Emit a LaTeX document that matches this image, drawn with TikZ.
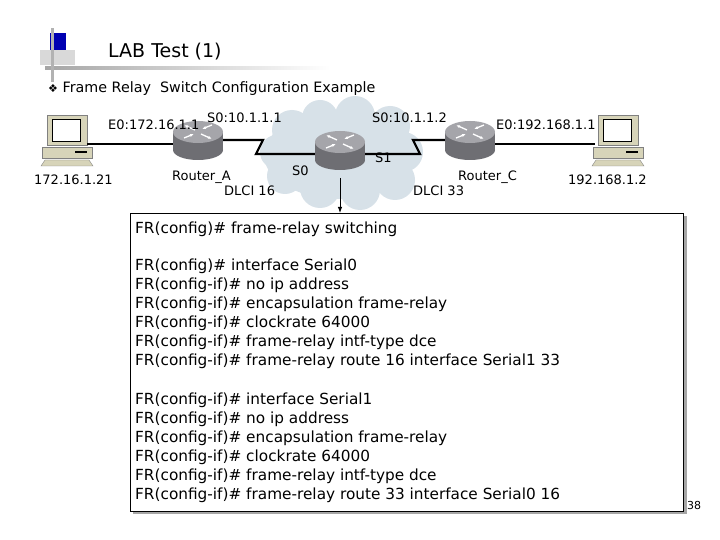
\documentclass[tikz,border=0pt]{standalone}
\usepackage{fontspec}
\setmainfont{DejaVu Sans}
\usetikzlibrary{shapes.geometric,arrows.meta,shadows}
\definecolor{rtr}{RGB}{110,110,115}
\definecolor{rtrtop}{RGB}{165,165,170}
\definecolor{cloudc}{RGB}{215,225,232}
\definecolor{pcc}{RGB}{215,212,185}
\tikzset{
 lbl/.style={font=\fontsize{13}{13}\selectfont, inner sep=0pt, anchor=west},
 cfg/.style={font=\fontsize{15.3}{15.3}\selectfont, inner sep=0pt, anchor=west},
 link/.style={line width=2.2pt},
}
\newcommand{\router}[2]{%
 \begin{scope}[shift={#1}]
  \fill[rtr] (-25,-8) rectangle (25,10);
  \fill[rtr] (0,10) ellipse (25 and 10);
  \fill[rtrtop] (0,-8) ellipse (25 and 11);
  \draw[white,line width=1.3pt,-{Latex[length=4pt]}] (-3,-10) -- (-14,-15);
  \draw[white,line width=1.3pt,-{Latex[length=4pt]}] (3,-6) -- (14,-1);
  \draw[white,line width=1.3pt,-{Latex[length=4pt]}] (-14,-2) -- (-4,-6);
  \draw[white,line width=1.3pt,-{Latex[length=4pt]}] (14,-15) -- (4,-11);
  \coordinate (#2) at (0,0);
 \end{scope}}
\newcommand{\pc}[2]{%
 \begin{scope}[shift={#1}]
  \fill[pcc,draw=gray] (-20,-25) rectangle (20,5);
  \fill[white,draw=black] (-15,-21) rectangle (13,1);
  \fill[pcc,draw=gray] (-25,7) rectangle (25,18);
  \draw[line width=1.5pt] (8,12) -- (20,12);
  \fill[pcc,draw=gray] (-22,20) -- (22,20) -- (26,26) -- (-26,26) -- cycle;
  \coordinate (#2) at (0,0);
 \end{scope}}
\begin{document}
\begin{tikzpicture}[x=1pt,y=-1pt]
\useasboundingbox (0,0) rectangle (720,540);
\fill[white] (0,0) rectangle (720,540);
% header decoration
\fill[gray!30] (40,50) rectangle (75,65);
\fill[blue!70!black] (50,33) rectangle (66,50);
\shade[left color=gray!70,right color=white] (45,67) rectangle (330,70);
\fill[gray!60] (51,28) rectangle (54,82);
\node[lbl,font=\fontsize{19}{19}\selectfont] (title) at (108,52) {LAB Test (1)};
\node[lbl,font=\fontsize{14.3}{14.3}\selectfont] (sub) at (48,89) {{\fontsize{11}{11}\selectfont ❖} Frame Relay\ \ Switch Configuration Example};
% cloud
\fill[cloudc] (340,155) ellipse (76 and 44);
\foreach \x/\y/\r in {292/130/20,320/118/18,355/116/20,390/126/20,403/152/20,395/180/20,360/190/20,320/188/20,285/176/18,277/152/17}
  \fill[cloudc] (\x,\y) circle (\r);
% links
\pc{(67,140)}{pcL}
\pc{(618,140)}{pcR}
\draw[link] (87,144) -- (175,144);
\draw[link] (495,144) -- (595,144);
\draw[link] (222,140) -- (263,140) -- (256,154) -- (316,154);
\draw[link] (365,154) -- (420,154) -- (413,140) -- (448,140);
\router{(198,140)}{rA}
\router{(340,150)}{rF}
\router{(470,140)}{rC}
% labels
\node[lbl] (e0a) at (108,125) {E0:172.16.1.1};
\node[lbl] (s0a) at (207,118) {S0:10.1.1.1};
\node[lbl] (s0c) at (372,118) {S0:10.1.1.2};
\node[lbl] (e0c) at (496,125) {E0:192.168.1.1};
\node[lbl] (ipl) at (34,180) {172.16.1.21};
\node[lbl] (ra) at (172,177) {Router\_A};
\node[lbl] (d16) at (224,191) {DLCI 16};
\node[lbl] (ps0) at (292,171) {S0};
\node[lbl] (ps1) at (375,158) {S1};
\node[lbl] (rc) at (458,177) {Router\_C};
\node[lbl] (d33) at (413,191) {DLCI 33};
\node[lbl] (ipr) at (568,180) {192.168.1.2};
% config box
\fill[gray!70] (133,216) rectangle (687,514);
\node[draw=black,line width=1pt,fill=white,minimum width=553pt,minimum height=298pt,anchor=north west,inner sep=0pt] (box) at (130,213) {};
\coordinate (arrs) at (340,178);
\draw[-{Latex[length=6pt]},line width=1pt] (arrs) -- (arrs |- box.north);
\node[cfg] at (135,229) {FR(config)\# frame-relay switching};
\node[cfg] at (135,266) {FR(config)\# interface Serial0};
\node[cfg] at (135,285) {FR(config-if)\# no ip address};
\node[cfg] at (135,304) {FR(config-if)\# encapsulation frame-relay};
\node[cfg] at (135,323) {FR(config-if)\# clockrate 64000};
\node[cfg] at (135,342) {FR(config-if)\# frame-relay intf-type dce};
\node[cfg] at (135,361) {FR(config-if)\# frame-relay route 16 interface Serial1 33};
\node[cfg] at (135,400) {FR(config-if)\# interface Serial1};
\node[cfg] at (135,419) {FR(config-if)\# no ip address};
\node[cfg] at (135,438) {FR(config-if)\# encapsulation frame-relay};
\node[cfg] at (135,457) {FR(config-if)\# clockrate 64000};
\node[cfg] at (135,476) {FR(config-if)\# frame-relay intf-type dce};
\node[cfg] at (135,495) {FR(config-if)\# frame-relay route 33 interface Serial0 16};
\node[lbl,font=\fontsize{11}{11}\selectfont] (pg) at (687,505) {38};
\end{tikzpicture}
\end{document}
